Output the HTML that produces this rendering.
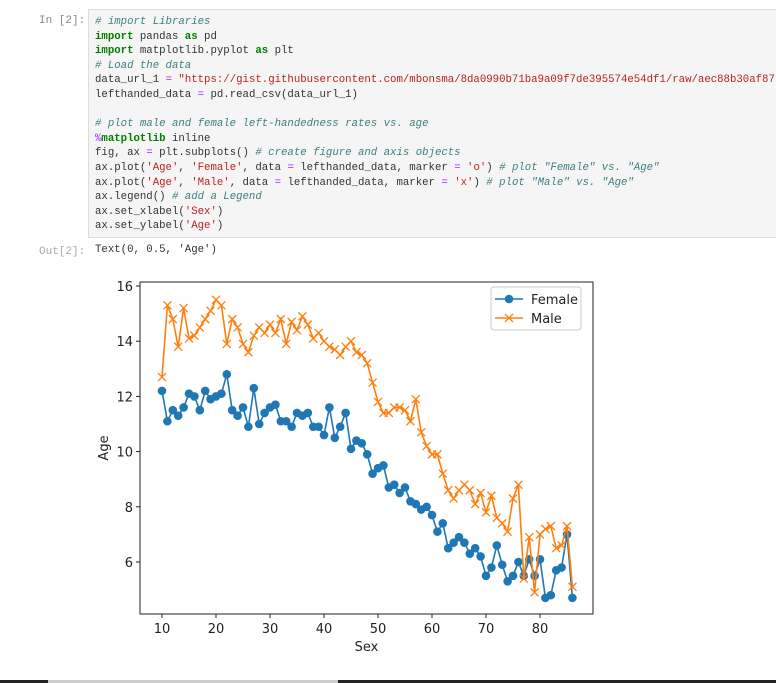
<!DOCTYPE html>
<html><head><meta charset="utf-8"><style>
body{margin:0;width:776px;height:683px;background:#fff;position:relative;overflow:hidden;font-family:"Liberation Sans","DejaVu Sans",sans-serif}
.prompt{position:absolute;font-family:"Liberation Mono",monospace;font-size:11px;color:#888}
.cell{position:absolute;left:88px;top:9px;width:688px;height:229px;background:#f5f5f5;border:1px solid #dcdcdc;border-right:none;box-sizing:border-box}
pre{margin:0;position:absolute;left:95px;top:15px;width:681px;overflow:hidden;font-family:"Liberation Mono",monospace;font-size:10.7px;line-height:14.6px;color:#333;white-space:pre}
.c{color:#408080;font-style:italic}.k{color:#008000;font-weight:bold}.s{color:#ba2121}.o{color:#aa22ff}
</style></head><body>
<div class="prompt" style="left:39px;top:15px">In [2]:</div>
<div class="cell"></div>
<pre><span class="c"># import Libraries</span>
<span class="k">import</span> pandas <span class="k">as</span> pd
<span class="k">import</span> matplotlib.pyplot <span class="k">as</span> plt
<span class="c"># Load the data</span>
data_url_1 <span class="o">=</span> <span class="s">"https://gist.githubusercontent.com/mbonsma/8da0990b71ba9a09f7de395574e54df1/raw/aec88b30af87</span>
lefthanded_data <span class="o">=</span> pd.read_csv(data_url_1)

<span class="c"># plot male and female left-handedness rates vs. age</span>
<span class="o">%</span><span class="k">matplotlib</span> inline
fig, ax <span class="o">=</span> plt.subplots() <span class="c"># create figure and axis objects</span>
ax.plot(<span class="s">'Age'</span>, <span class="s">'Female'</span>, data <span class="o">=</span> lefthanded_data, marker <span class="o">=</span> <span class="s">'o'</span>) <span class="c"># plot "Female" vs. "Age"</span>
ax.plot(<span class="s">'Age'</span>, <span class="s">'Male'</span>, data <span class="o">=</span> lefthanded_data, marker <span class="o">=</span> <span class="s">'x'</span>) <span class="c"># plot "Male" vs. "Age"</span>
ax.legend() <span class="c"># add a Legend</span>
ax.set_xlabel(<span class="s">'Sex'</span>)
ax.set_ylabel(<span class="s">'Age'</span>)</pre>
<div class="prompt" style="left:39px;top:246px;color:#aaa">Out[2]:</div>
<div style="position:absolute;left:95px;top:244px;font-family:'Liberation Mono',monospace;font-size:10.7px;color:#333">Text(0, 0.5, 'Age')</div>
<svg id="chart" width="776" height="683" style="position:absolute;left:0;top:0"></svg>
<div style="position:absolute;left:0;top:680px;width:776px;height:3px;background:#222"></div>
<div style="position:absolute;left:48px;top:680px;width:290px;height:3px;background:#ccc"></div>
<script>
const ages=[];for(let a=10;a<=86;a++)ages.push(a);
const female=[12.2,11.1,11.5,11.3,11.6,12.1,12.0,11.5,12.2,11.9,12.0,12.1,12.8,11.5,11.3,11.6,10.9,12.3,11.0,11.4,11.6,11.7,11.1,11.1,10.9,11.4,11.3,11.4,10.9,10.9,10.6,11.6,10.5,10.9,11.4,10.1,10.4,10.3,9.9,9.2,9.4,9.5,8.7,8.8,8.5,8.7,8.2,8.1,7.9,8.0,7.7,7.1,7.4,6.5,6.7,6.9,6.7,6.3,6.5,6.2,5.5,5.8,6.6,5.9,5.3,5.5,6.0,5.5,6.1,5.5,6.1,4.7,4.8,5.7,5.8,7.0,4.7];
const male=[12.7,15.3,14.8,13.8,15.2,14.1,14.2,14.5,14.8,15.1,15.5,15.3,13.9,14.8,14.5,13.9,13.6,14.2,14.5,14.3,14.6,14.3,14.8,13.9,14.7,14.4,14.9,14.6,14.1,14.3,14.0,13.8,13.7,13.5,13.8,14.0,13.6,13.5,13.2,12.5,11.8,11.4,11.4,11.6,11.6,11.5,11.1,11.9,10.7,10.2,9.9,9.9,9.2,8.6,8.3,8.6,8.8,8.6,8.1,8.5,7.8,8.4,7.6,7.4,7.1,8.3,8.8,5.4,6.9,4.9,7.0,7.2,7.3,6.5,6.6,7.3,5.1];
const xTicks=[10,20,30,40,50,60,70,80];
const yTicks=[6,8,10,12,14,16];
const NS="http://www.w3.org/2000/svg",svg=document.getElementById('chart');
const L=140,R=593,T=282,B=614;
const xs=v=>162+(v-10)*5.4;
const ys=v=>286+(16-v)*27.6;
function el(t,a,p){const e=document.createElementNS(NS,t);for(const k in a)e.setAttribute(k,a[k]);(p||svg).appendChild(e);return e;}
const g=el('g',{'clip-path':'url(#cp)'});
const cp=el('clipPath',{id:'cp'});el('rect',{x:L,y:T,width:R-L,height:B-T},cp);
function series(vals,color,marker,name){
  const line=el('polyline',{points:vals.map((v,i)=>xs(ages[i])+','+ys(v)).join(' '),fill:'none',stroke:color,'stroke-width':1.6},g);
  
  
  vals.forEach((v,i)=>{const x=xs(ages[i]),y=ys(v);let m;
    if(marker==='o'){m=el('circle',{cx:x,cy:y,r:4.3,fill:color},g);}
    else{m=el('path',{d:`M${x-4},${y-4}L${x+4},${y+4}M${x-4},${y+4}L${x+4},${y-4}`,stroke:color,'stroke-width':1.3},g);}
    
    });
}
series(female,'#1f77b4','o','female');
series(male,'#ff7f0e','x','male');
el('rect',{x:L,y:T,width:R-L,height:B-T,fill:'none',stroke:'#222','stroke-width':1});
xTicks.forEach(t=>{el('line',{x1:xs(t),x2:xs(t),y1:B,y2:B+4,stroke:'#222'});
  const tx=el('text',{x:xs(t),y:B+19,'text-anchor':'middle','font-size':13,fill:'#222','font-family':'DejaVu Sans,sans-serif'});tx.textContent=t;
  
  });
yTicks.forEach(t=>{el('line',{x1:L-4,x2:L,y1:ys(t),y2:ys(t),stroke:'#222'});
  const tx=el('text',{x:L-7,y:ys(t)+5,'text-anchor':'end','font-size':13,fill:'#222','font-family':'DejaVu Sans,sans-serif'});tx.textContent=t;
  
  });
const xl=el('text',{x:(L+R)/2,y:651,'text-anchor':'middle','font-size':13,fill:'#222','font-family':'DejaVu Sans,sans-serif'});xl.textContent='Sex';


const yl=el('text',{x:0,y:0,transform:`translate(108,${(T+B)/2}) rotate(-90)`,'text-anchor':'middle','font-size':13,fill:'#222','font-family':'DejaVu Sans,sans-serif'});yl.textContent='Age';


const lg=el('g',{});


el('rect',{x:491,y:287,width:90,height:43,rx:3,fill:'#fff',stroke:'#ccc'},lg);
el('line',{x1:495,x2:523,y1:299,y2:299,stroke:'#1f77b4','stroke-width':1.6},lg);
el('circle',{cx:509,cy:299,r:4.3,fill:'#1f77b4'},lg);
el('line',{x1:495,x2:523,y1:318,y2:318,stroke:'#ff7f0e','stroke-width':1.6},lg);
el('path',{d:'M505,314L513,322M505,322L513,314',stroke:'#ff7f0e','stroke-width':1.3},lg);
const t1=el('text',{x:531,y:304,'font-size':13,fill:'#222','font-family':'DejaVu Sans,sans-serif'},lg);t1.textContent='Female';


const t2=el('text',{x:531,y:323,'font-size':13,fill:'#222','font-family':'DejaVu Sans,sans-serif'},lg);t2.textContent='Male';


</script>
</body></html>
